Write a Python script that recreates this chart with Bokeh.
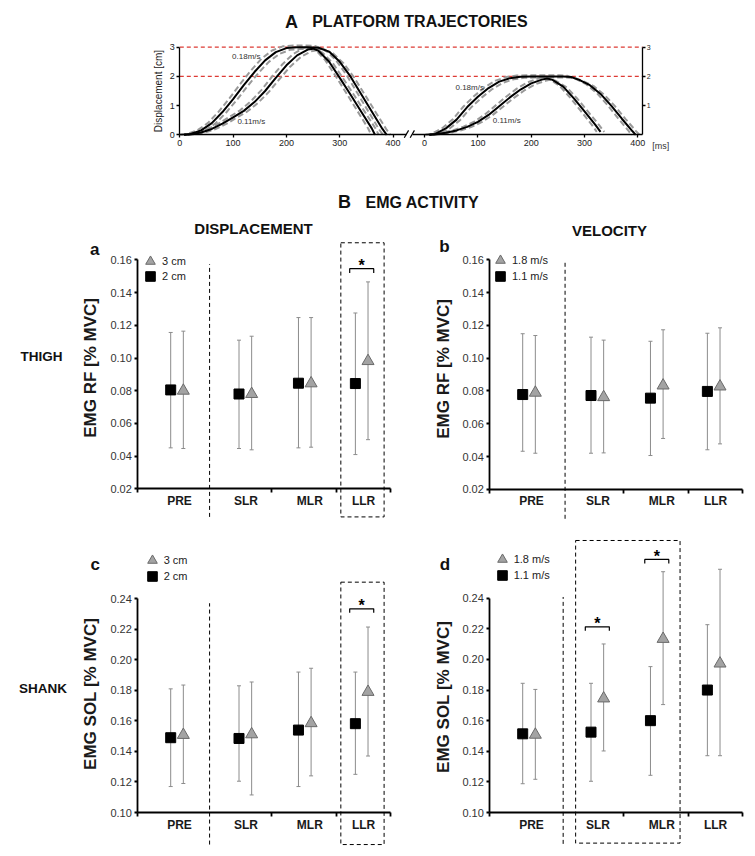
import math
from bokeh.plotting import figure
from bokeh.models import (Range1d, LinearAxis, FixedTicker, PrintfTickFormatter,
                          ColumnDataSource, Whisker, TeeHead, Legend, LegendItem)
from bokeh.core.properties import value
from bokeh.embed import file_html
from bokeh.resources import INLINE

FONT = "Liberation Sans"
INK = "#1a1a1a"

# ======================= DATA =======================
# A: platform trajectories, time [ms] / displacement [cm]
T_3CM_018 = [8, 20, 40, 60, 80, 100, 120, 140, 160, 180, 200, 220, 240, 260, 280, 300, 320, 340, 360, 380, 388]
D_3CM_018 = [0, 0.03, 0.15, 0.40, 0.78, 1.22, 1.70, 2.15, 2.55, 2.83, 2.97, 3.0, 3.0, 2.98, 2.85, 2.5, 2.0, 1.4, 0.8, 0.2, 0]
T_3CM_011 = [8, 20, 40, 60, 80, 100, 120, 140, 160, 180, 200, 220, 240, 250, 260, 280, 300, 320, 340, 360, 366]
D_3CM_011 = [0, 0.02, 0.08, 0.2, 0.38, 0.6, 0.82, 1.12, 1.5, 1.95, 2.38, 2.72, 2.92, 2.95, 2.88, 2.5, 1.95, 1.38, 0.8, 0.22, 0]
T_2CM_018 = [8, 20, 40, 60, 80, 100, 120, 140, 160, 180, 200, 220, 240, 260, 275, 290, 310, 330, 350, 370, 390, 396]
D_2CM_018 = [0, 0.03, 0.22, 0.52, 0.95, 1.3, 1.6, 1.82, 1.94, 1.99, 2.0, 2.0, 2.0, 2.0, 1.98, 1.88, 1.7, 1.4, 1.0, 0.55, 0.12, 0]
T_2CM_011 = [10, 20, 40, 60, 80, 100, 120, 140, 160, 180, 200, 220, 230, 240, 260, 280, 300, 320, 330]
D_2CM_011 = [0, 0.02, 0.07, 0.15, 0.27, 0.44, 0.68, 0.98, 1.28, 1.55, 1.76, 1.89, 1.93, 1.88, 1.65, 1.25, 0.8, 0.35, 0.1]
BAND_DT_MS = 7        # spread of the grey dashed curves (time)
BAND_REL = 0.02       # spread of the grey dashed curves (amplitude)
TARGET_CM = [3, 2]
A_XTICKS = [0, 100, 200, 300, 400]
A_YTICKS = [0, 1, 2, 3]

CATEGORIES = ["PRE", "SLR", "MLR", "LLR"]
RF_TICKS = [0.02, 0.04, 0.06, 0.08, 0.10, 0.12, 0.14, 0.16]
SOL_TICKS = [0.10, 0.12, 0.14, 0.16, 0.18, 0.20, 0.22, 0.24]

# a: EMG RF, displacement (2 cm squares, 3 cm triangles)
RF_2CM = [0.0805, 0.0780, 0.0846, 0.0844]
RF_2CM_HI = [0.1156, 0.1109, 0.1247, 0.1275]
RF_2CM_LO = [0.0451, 0.0447, 0.0451, 0.0410]
RF_3CM = [0.0800, 0.0780, 0.0845, 0.0981]
RF_3CM_HI = [0.1164, 0.1133, 0.1247, 0.1465]
RF_3CM_LO = [0.0447, 0.0439, 0.0455, 0.0501]
# b: EMG RF, velocity (1.1 m/s squares, 1.8 m/s triangles)
RF_11 = [0.0778, 0.0772, 0.0756, 0.0797]
RF_11_HI = [0.1149, 0.1128, 0.1103, 0.1152]
RF_11_LO = [0.0432, 0.0420, 0.0406, 0.0441]
RF_18 = [0.0789, 0.0762, 0.0833, 0.0827]
RF_18_HI = [0.1138, 0.1110, 0.1173, 0.1185]
RF_18_LO = [0.0420, 0.0422, 0.0510, 0.0477]
# c: EMG SOL, displacement
SOL_2CM = [0.1490, 0.1485, 0.1540, 0.1582]
SOL_2CM_HI = [0.1810, 0.1830, 0.1920, 0.1920]
SOL_2CM_LO = [0.1170, 0.1205, 0.1170, 0.1250]
SOL_3CM = [0.1508, 0.1512, 0.1585, 0.1790]
SOL_3CM_HI = [0.1835, 0.1855, 0.1945, 0.2215]
SOL_3CM_LO = [0.1190, 0.1115, 0.1240, 0.1370]
# d: EMG SOL, velocity
SOL_11 = [0.1514, 0.1525, 0.1600, 0.1800]
SOL_11_HI = [0.1844, 0.1844, 0.1953, 0.2227]
SOL_11_LO = [0.1188, 0.1204, 0.1243, 0.1371]
SOL_18 = [0.1508, 0.1745, 0.2134, 0.1973]
SOL_18_HI = [0.1804, 0.2101, 0.2573, 0.2589]
SOL_18_LO = [0.1217, 0.1402, 0.1705, 0.1371]

# significant pairs: (category index, bracket level)
SIG_A = [(3, 0.1546)]
SIG_B = []
SIG_C = [(3, 0.2334)]
SIG_D = [(1, 0.2213), (2, 0.2653)]

# ======================= LAYOUT =======================
W, H = 750, 850
FL, FR, FT, FB = 0, W, 0, H          # page pixel extents of the frame


def lin_range(v0, p0, v1, p1, lo, hi):
    s = (v1 - v0) / (p1 - p0)
    return Range1d(start=v0 + (lo - p0) * s, end=v0 + (hi - p0) * s)


p = figure(width=W, height=H, x_range=Range1d(FL, FR), y_range=Range1d(FB, FT),
           x_axis_location=None, y_axis_location=None, toolbar_location=None,
           output_backend="svg", min_border=0, outline_line_color=None)
for g in p.grid:
    g.visible = False

xr, yr = {}, {}


def style_axis(ax, size, lw=1.6, tick_out=3, standoff=3, color="#222"):
    ax.axis_line_color = "black"
    ax.axis_line_width = lw
    ax.major_tick_line_color = "black"
    ax.major_tick_line_width = lw
    ax.major_tick_out = tick_out
    ax.major_tick_in = 0
    ax.minor_tick_line_color = None
    ax.major_label_text_font = FONT
    ax.major_label_text_font_size = size
    ax.major_label_text_color = color
    ax.major_label_standoff = standoff


def page_text(x, y, t, size, bold=True, align="center", color="#111", angle=0):
    p.text(x=[x], y=[y], text=[t], text_font=value(FONT), text_font_size=size,
           text_font_style="bold" if bold else "normal", text_align=align,
           text_baseline="middle", text_color=color, angle=angle)


# ---------------- Panel A ----------------
SEG2 = 459          # ms offset of the 2 cm block on the shared axis
A_RIGHT = 868       # location of the right-hand axis
xr["A"] = lin_range(0, 179.3, 400, 392.6, FL, FR)
yr["A"] = lin_range(0, 134.3, 3, 46.7, FB, FT)
AK = dict(x_range_name="A", y_range_name="A")

p.segment(x0=[0] * len(TARGET_CM), x1=[A_RIGHT] * len(TARGET_CM), y0=TARGET_CM, y1=TARGET_CM,
          line_color="#dd3b35", line_width=1.3, line_dash="4 3", **AK)

curves = [(T_3CM_018, D_3CM_018, 0), (T_3CM_011, D_3CM_011, 0),
          (T_2CM_018, D_2CM_018, SEG2), (T_2CM_011, D_2CM_011, SEG2)]
for t, d, off in curves:
    for sgn in (-1, 1):
        p.line([ti + off + sgn * BAND_DT_MS for ti in t], [di * (1 - sgn * BAND_REL) for di in d],
               line_color="#9a9a9a", line_width=2, line_dash="6 3", **AK)
for t, d, off in curves:
    p.line([ti + off for ti in t], d, line_color="black", line_width=2, **AK)

p.text(x=[98, 108, SEG2 + 58, SEG2 + 128], y=[2.68, 0.47, 1.63, 0.49],
       text=["0.18m/s", "0.11m/s", "0.18m/s", "0.11m/s"], text_font=value(FONT),
       text_font_size="8px", text_baseline="middle", text_color="#333", **AK)
p.text(x=[886], y=[-0.39], text=["[ms]"], text_font=value(FONT), text_font_size="9px",
       text_baseline="middle", text_color="#333", **AK)

ax_l = LinearAxis(fixed_location=0, bounds=(0, 3), ticker=FixedTicker(ticks=A_YTICKS),
                  axis_label="Displacement [cm]", **AK)
style_axis(ax_l, "9px", lw=1.3, standoff=2)
ax_l.axis_label_text_font = FONT
ax_l.axis_label_text_font_size = "10px"
ax_l.axis_label_text_font_style = "normal"
ax_l.axis_label_text_color = "#222"
ax_l.axis_label_standoff = 2
p.add_layout(ax_l, "left")

ax_r = LinearAxis(fixed_location=A_RIGHT, bounds=(0, 3), ticker=FixedTicker(ticks=A_YTICKS[1:]), **AK)
style_axis(ax_r, "7px", lw=1.3, standoff=1)
p.add_layout(ax_r, "right")

ax_b1 = LinearAxis(fixed_location=0, bounds=(0, 425), ticker=FixedTicker(ticks=A_XTICKS), **AK)
style_axis(ax_b1, "9px", lw=1.3, standoff=2)
p.add_layout(ax_b1, "below")
ax_b2 = LinearAxis(fixed_location=0, bounds=(437, A_RIGHT),
                   ticker=FixedTicker(ticks=[t + SEG2 for t in A_XTICKS]),
                   major_label_overrides={float(t + SEG2): str(t) for t in A_XTICKS}, **AK)
style_axis(ax_b2, "9px", lw=1.3, standoff=2)
p.add_layout(ax_b2, "below")
# axis break marks
p.segment(x0=[421, 432], y0=[-0.1, -0.1], x1=[429, 440], y1=[0.15, 0.15],
          line_color="black", line_width=1.2, **AK)

# ---------------- Panels a-d ----------------
GROUP_X = [0.62, 1.70, 2.64, 3.54]
DX = 0.1
LABEL_X = [0.66, 1.71, 2.72, 3.57]
BOUND_X = [0, 2.11, 3.14, 4.0]
BAR = "#8c8c8c"


def emg_panel(name, px0, ymap, yticks, ylabel, ylab_pos, sq, sq_hi, sq_lo, tr, tr_hi, tr_lo,
              leg_labels, leg_center, sep, boxes, sigs):
    xr[name] = lin_range(0, px0, 4, px0 + 253, FL, FR)
    yr[name] = lin_range(*ymap, FB, FT)
    K = dict(x_range_name=name, y_range_name=name)
    y0 = yticks[0]

    # dashed separators / boxes
    p.segment(x0=[sep[0]], x1=[sep[0]], y0=[sep[1]], y1=[sep[2]], line_color="black",
              line_width=1, line_dash="4 3", **K)
    for (l, r, b, t) in boxes:
        p.quad(left=[l], right=[r], bottom=[b], top=[t], fill_alpha=0, line_color="black",
               line_width=1, line_dash="4 3", **K)

    s_sq = ColumnDataSource(dict(x=[g - DX for g in GROUP_X], y=sq, hi=sq_hi, lo=sq_lo))
    s_tr = ColumnDataSource(dict(x=[g + DX for g in GROUP_X], y=tr, hi=tr_hi, lo=tr_lo))
    for s in (s_sq, s_tr):
        p.add_layout(Whisker(source=s, base="x", upper="hi", lower="lo", dimension="height",
                             line_color=BAR, line_width=1,
                             upper_head=TeeHead(size=4, line_color=BAR, line_width=1),
                             lower_head=TeeHead(size=4, line_color=BAR, line_width=1), **K))
    r_sq = p.scatter("x", "y", source=s_sq, marker="square", size=10, fill_color="black",
                     line_color="black", **K)
    r_tr = p.scatter("x", "y", source=s_tr, marker="triangle", size=12, fill_color="#a3a3a3",
                     line_color="#6a6a6a", line_width=1, **K)

    # significance brackets
    tick = (yticks[1] - yticks[0]) * 0.13
    for ci, lev in sigs:
        c = GROUP_X[ci]
        p.multi_line(xs=[[c - 0.19, c - 0.19, c + 0.19, c + 0.19]],
                     ys=[[lev - tick, lev, lev, lev - tick]], line_color="black", line_width=1.2, **K)
        p.text(x=[c], y=[lev], text=["*"], text_font=value(FONT), text_font_size="16px",
               text_font_style="bold", text_align="center", text_baseline="middle",
               y_offset=-3, text_color="black", **K)

    # axes
    ay = LinearAxis(fixed_location=0, bounds=(yticks[0], yticks[-1]), ticker=FixedTicker(ticks=yticks),
                    formatter=PrintfTickFormatter(format="%.2f"), **K)
    style_axis(ay, "11px", lw=1.8, standoff=3, color="#333")
    p.add_layout(ay, "left")
    page_text(ylab_pos[0], ylab_pos[1], ylabel, "17px", color=INK, angle=math.pi / 2)

    ab = LinearAxis(fixed_location=y0, bounds=(0, 4), ticker=FixedTicker(ticks=BOUND_X), **K)
    style_axis(ab, "11px", lw=1.8, tick_out=4)
    ab.major_label_text_color = None
    p.add_layout(ab, "below")

    ac = LinearAxis(fixed_location=y0, bounds=(0, 4), ticker=FixedTicker(ticks=LABEL_X),
                    major_label_overrides={float(x): c for x, c in zip(LABEL_X, CATEGORIES)}, **K)
    style_axis(ac, "12px", lw=1.8, tick_out=0, standoff=5, color=INK)
    ac.axis_line_color = None
    ac.major_tick_line_color = None
    ac.major_label_text_font_style = "bold"
    p.add_layout(ac, "below")

    # legend: one single-item legend per row, placed by its glyph centre
    cx, cy = leg_center
    for k, (lab, rend) in enumerate(zip(leg_labels, (r_tr, r_sq))):
        left, top = cx - 12, cy + k * 15.5 - 12
        leg = Legend(items=[LegendItem(label=lab, renderers=[rend])],
                     location=(left - FL, FB - (top + 24)), orientation="vertical",
                     glyph_width=24, glyph_height=24, label_height=12, spacing=0,
                     label_standoff=-3, padding=0, margin=0, border_line_color=None,
                     background_fill_alpha=0, label_text_font=FONT, label_text_font_size="11px",
                     label_text_color="#222")
        p.add_layout(leg)


emg_panel("a", 137.3, (0.04, 455.7, 0.16, 259.3), RF_TICKS, "EMG RF  [% MVC]", (90, 365),
          RF_2CM, RF_2CM_HI, RF_2CM_LO, RF_3CM, RF_3CM_HI, RF_3CM_LO,
          ["3 cm", "2 cm"], (150, 260.7), (1.135, 0.0029, 0.1573),
          [(3.21, 3.894, 0.0029, 0.1704)], SIG_A)
emg_panel("b", 489.3, (0.04, 456.0, 0.16, 259.3), RF_TICKS, "EMG RF  [% MVC]", (443, 366),
          RF_11, RF_11_HI, RF_11_LO, RF_18, RF_18_HI, RF_18_LO,
          ["1.8 m/s", "1.1 m/s"], (500, 260), (1.19, 0.002, 0.1586), [], SIG_B)
emg_panel("c", 137.3, (0.10, 812.0, 0.24, 598.3), SOL_TICKS, "EMG SOL  [% MVC]", (90, 691),
          SOL_2CM, SOL_2CM_HI, SOL_2CM_LO, SOL_3CM, SOL_3CM_HI, SOL_3CM_LO,
          ["3 cm", "2 cm"], (151.7, 560), (1.135, 0.079, 0.2371),
          [(3.21, 3.894, 0.079, 0.2509)], SIG_C)
emg_panel("d", 489.3, (0.10, 812.0, 0.24, 597.7), SOL_TICKS, "EMG SOL  [% MVC]", (443, 694),
          SOL_11, SOL_11_HI, SOL_11_LO, SOL_18, SOL_18_HI, SOL_18_LO,
          ["1.8 m/s", "1.1 m/s"], (501.7, 559.3), (1.16, 0.0795, 0.2408),
          [(1.357, 3.008, 0.08, 0.2777)], SIG_D)

p.extra_x_ranges = xr
p.extra_y_ranges = yr

# ---------------- titles & labels (page pixels) ----------------
page_text(291, 21, "A", "18px")
page_text(311.7, 21, "PLATFORM  TRAJECTORIES", "16px", align="left")
page_text(344, 201.7, "B", "18px")
page_text(365, 201.7, "EMG ACTIVITY", "16px", align="left")
page_text(253, 228.3, "DISPLACEMENT", "15px")
page_text(609, 230, "VELOCITY", "15px")
page_text(41, 356, "THIGH", "13.5px")
page_text(42.5, 688, "SHANK", "13.5px")
page_text(94.3, 249, "a", "17px")
page_text(444, 246, "b", "17px")
page_text(94.7, 564, "c", "17px")
page_text(444.5, 564, "d", "17px")

open("out.html", "w").write(file_html(p, INLINE))
